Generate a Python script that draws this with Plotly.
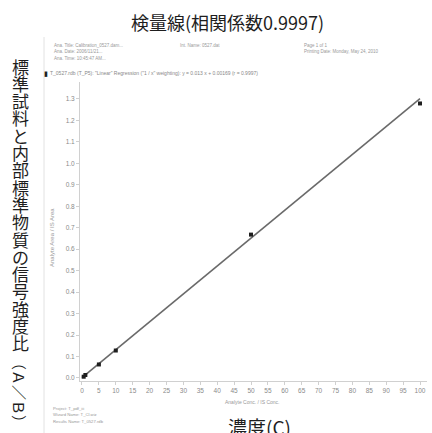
import plotly.graph_objects as go

# ---- data ----
conc = [0.5, 1, 5, 10, 50, 100]
ratio = [0.006, 0.014, 0.063, 0.128, 0.668, 1.279]
slope = 0.013
intercept = 0.00169
line_x = [0, 100]
x_ticks = list(range(0, 101, 5))
y_ticks = [round(i * 0.1, 1) for i in range(0, 14)]

title_text = "検量線(相関係数0.9997)"
ytitle_chars = list("標準試料と内部標準物質の信号強度比")
ytitle_tail = "（Ａ／Ｂ）"
xtitle_text = "濃度(C)"
header_left = ["Ana. Title: Calibration_0527.dam...", "Ana. Date: 2006/11/21...", "Ana. Time: 10:45:47 AM..."]
header_mid = ["Int. Name: 0527.dat"]
header_right = ["Page 1 of 1", "Printing Date: Monday, May 24, 2010"]
legend_text = 'T_0527.rdb (T_P5): "Linear" Regression ("1 / x" weighting): y = 0.013 x + 0.00169 (r = 0.9997)'
footer_left = ["Project: T_pdf_iii", "Wizard Name: T_Cl.wiz", "Results Name: T_0527.rdb"]

W, H = 432, 433
ML, MR, MT, MB = 80, 5, 82, 52
PW, PH = W - ML - MR, H - MT - MB


def px(x):
    return (x - ML) / PW


def py(y):
    return (H - MB - y) / PH


line_y = [slope * v + intercept for v in line_x]

fig = go.Figure()
fig.add_trace(go.Scatter(x=line_x, y=line_y, mode="lines",
                         line=dict(color="#6a6a6a", width=1.6), hoverinfo="skip"))
fig.add_trace(go.Scatter(x=conc, y=ratio, mode="markers",
                         marker=dict(symbol="square", size=4, color="#1e1e1e"),
                         cliponaxis=False))

ann = []
cjk = "Noto Sans CJK JP"
small = "Liberation Sans"
ann.append(dict(text=title_text, x=px(227), y=py(22), font=dict(family=cjk, size=18, color="#1e1e1e")))
y0 = 66
for i, ch in enumerate(ytitle_chars):
    ann.append(dict(text=ch, x=px(20), y=py(y0 + i * 17.3), font=dict(family=cjk, size=17, color="#1e1e1e")))
ann.append(dict(text=ytitle_tail, x=px(20), y=py(392), textangle=90, font=dict(family=cjk, size=15, color="#1e1e1e")))
ann.append(dict(text=xtitle_text, x=px(259), y=py(426), font=dict(family=cjk, size=19, color="#1e1e1e")))

for i, t in enumerate(header_left):
    ann.append(dict(text=t, x=px(52), y=py(45 + i * 6.5), xanchor="left", font=dict(family=small, size=4.5, color="#999")))
for i, t in enumerate(header_mid):
    ann.append(dict(text=t, x=px(178), y=py(45 + i * 6.5), xanchor="left", font=dict(family=small, size=4.5, color="#999")))
for i, t in enumerate(header_right):
    ann.append(dict(text=t, x=px(302), y=py(45 + i * 6.5), xanchor="left", font=dict(family=small, size=4.5, color="#999")))
ann.append(dict(text="▮", x=px(42), y=py(73), xanchor="left", font=dict(family=small, size=7, color="#222")))
ann.append(dict(text=legend_text, x=px(48), y=py(73), xanchor="left", font=dict(family=small, size=5, color="#888")))
for i, t in enumerate(footer_left):
    ann.append(dict(text=t, x=px(51), y=py(408 + i * 6.5), xanchor="left", font=dict(family=small, size=4.2, color="#999")))
ann.append(dict(text="Analyte Area / IS Area", x=px(52), y=py(238), textangle=-90, font=dict(family=small, size=6, color="#999")))
ann.append(dict(text="Analyte Conc. / IS Conc.", x=px(252), y=py(402), font=dict(family=small, size=5, color="#999")))

for a in ann:
    a.setdefault("xanchor", "center")
    a.setdefault("yanchor", "middle")
    a.update(xref="paper", yref="paper", showarrow=False)

fig.update_layout(
    width=W, height=H,
    margin=dict(l=ML, r=MR, t=MT, b=MB, pad=0),
    paper_bgcolor="white", plot_bgcolor="white",
    showlegend=False,
    annotations=ann,
    shapes=[dict(type="line", xref="paper", yref="paper", x0=px(44), x1=px(44), y0=py(37), y1=py(433),
                 line=dict(color="#e2e2e2", width=1))],
    xaxis=dict(range=[-0.59, 102.07], tickvals=x_ticks, showgrid=False, zeroline=False,
               showline=True, linecolor="#d0d0d0", linewidth=1, ticks="outside", ticklen=3,
               tickcolor="#d0d0d0", tickfont=dict(family=small, size=6.5, color="#8a8a8a")),
    yaxis=dict(range=[-0.014, 1.379], tickvals=y_ticks, tickformat=".1f", showgrid=False, zeroline=False,
               showline=True, linecolor="#d0d0d0", linewidth=1, ticks="outside", ticklen=3,
               tickcolor="#d0d0d0", tickfont=dict(family=small, size=6.5, color="#8a8a8a")),
)

fig.write_html("out.html")
